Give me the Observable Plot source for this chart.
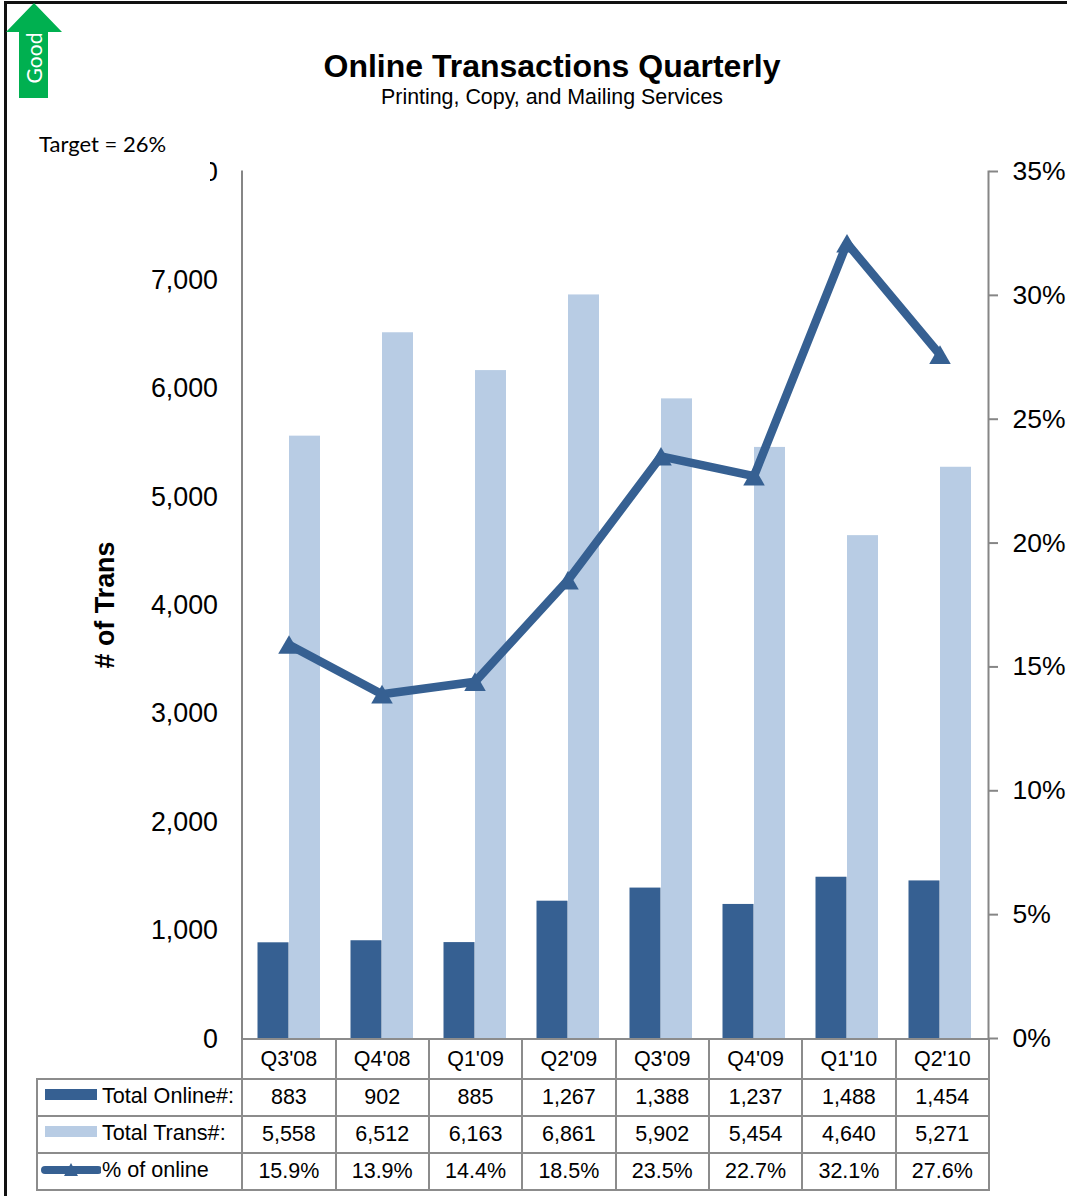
<!DOCTYPE html>
<html><head><meta charset="utf-8">
<script src="https://cdn.jsdelivr.net/npm/d3@7"></script>
<script src="https://cdn.jsdelivr.net/npm/@observablehq/plot@0.6"></script>
<style>
html,body{margin:0;padding:0;background:#fff;overflow:hidden}
#page{position:relative;width:1067px;height:1196px;overflow:hidden;font-family:"Liberation Sans",Arial,sans-serif;color:#000}
#frame{position:absolute;left:4px;top:1px;width:1100px;height:1300px;border-left:3px solid #111;border-top:3px solid #111;box-sizing:border-box}
#chart{position:absolute;left:0;top:0;z-index:2;pointer-events:none}
#chart svg{display:block;overflow:visible}
#title{position:absolute;left:252px;width:600px;top:47px;text-align:center;font-weight:bold;font-size:32px;line-height:38px}
#subtitle{position:absolute;left:252px;width:600px;top:85px;text-align:center;font-size:21.4px;line-height:24px}
#target{position:absolute;left:30px;top:127px;width:180px;height:60px;background:#fff;box-sizing:border-box;padding:4px 0 0 9px;font-family:Lato,sans-serif;font-size:22px;line-height:26px;z-index:3}
#good{position:absolute;left:0;top:0}
table{position:absolute;left:36px;top:1038px;width:952px;height:151px;border-collapse:collapse;table-layout:fixed;font-size:21.5px}
td{border:2px solid #8c8c8c;text-align:center;padding:0;white-space:nowrap;overflow:hidden}
td.blank{border:none;border-bottom:2px solid #8c8c8c;border-right:2px solid #8c8c8c}
td.lab{text-align:left;padding-left:8px;position:relative}
td.lab span.t{position:absolute;left:64px;top:3px;font-size:21.6px}
td.lab svg{position:absolute;left:6px;top:10px}
tr.q{height:40px}tr.r{height:37px}
</style></head>
<body>
<div id="page">
  <div id="frame"></div>
  <div id="chart"></div>
  <div id="title">Online Transactions Quarterly</div>
  <div id="subtitle">Printing, Copy, and Mailing Services</div>
  <div id="target">Target = 26%</div>
  <svg id="good" width="70" height="105">
    <polygon points="34,3 62,32 48,32 48,98 19,98 19,32 6,32" fill="#00B050"/>
    <text transform="translate(42,58) rotate(-90)" text-anchor="middle" fill="#fff" font-family="Lato,sans-serif" font-size="21">Good</text>
  </svg>
  <table id="tbl"></table>
</div>
<script>
const quarters = ["Q3'08","Q4'08","Q1'09","Q2'09","Q3'09","Q4'09","Q1'10","Q2'10"];
const totalOnline = [883,902,885,1267,1388,1237,1488,1454];
const totalTrans = [5558,6512,6163,6861,5902,5454,4640,5271];
const pctOnline = [15.9,13.9,14.4,18.5,23.5,22.7,32.1,27.6];
const leftTicks = [0,1000,2000,3000,4000,5000,6000,7000,8000];
const rightTicks = [0,5,10,15,20,25,30,35];

const DARK = "#366092", LIGHT = "#B8CCE4", GREY = "#868686";
const leftMax = 8000, rightMax = 35;
const toLeft = p => p / rightMax * leftMax;
const rows = quarters.map((q,i) => ({q, online: totalOnline[i], trans: totalTrans[i], pct: pctOnline[i]}));

const chart = Plot.plot({
  width: 1067, height: 1040,
  marginLeft: 241.5, marginRight: 79, marginTop: 171, marginBottom: 2,
  style: {fontFamily: '"Liberation Sans",Arial,sans-serif', background: "transparent", overflow: "visible"},
  x: {domain: quarters, padding: 0, axis: null},
  y: {domain: [0, leftMax]},
  marks: [
    Plot.barY(rows, {x: "q", y: "online", fill: DARK, insetLeft: 14.5, insetRight: 47.5}),
    Plot.barY(rows, {x: "q", y: "trans", fill: LIGHT, insetLeft: 46, insetRight: 16}),
    Plot.line(rows, {x: "q", y: d => toLeft(d.pct), stroke: DARK, strokeWidth: 8.5, strokeLinejoin: "miter", curve: "linear", dx: -1}),
    Plot.dot(rows, {x: "q", y: d => toLeft(d.pct), symbol: "triangle", r: 8, fill: DARK, dy: 3, dx: -1}),
    Plot.frame({anchor: "left", stroke: GREY, strokeWidth: 2}),
    Plot.frame({anchor: "right", stroke: GREY, strokeWidth: 2}),
    Plot.axisY({anchor: "left", ticks: leftTicks, tickSize: 0, tickPadding: 24, fontSize: 26.8, fill: "#000", label: null, dy: 0.5,
      tickFormat: d3.format(",")}),
    Plot.axisY({anchor: "right", ticks: rightTicks.map(toLeft), tickSize: 9, tickPadding: 15, fontSize: 26.5, stroke: GREY, strokeWidth: 2, fill: "#000", label: null,
      tickFormat: v => Math.round(v / leftMax * rightMax) + "%"}),
    Plot.axisY({anchor: "left", ticks: [], tickSize: 0, label: "# of Trans", labelAnchor: "center", labelArrow: "none", labelOffset: 147, fontSize: 26.9, fontWeight: "bold", fill: "#000"})
  ]
});
document.getElementById("chart").append(chart);

const fmtInt = d3.format(",");
const swatches = [
  `<svg width="54" height="14" style="left:5px;top:7px"><rect x="2" y="2" width="52" height="11" fill="${DARK}"/></svg>`,
  `<svg width="54" height="14" style="left:5px;top:7px"><rect x="2" y="2" width="52" height="11" fill="${LIGHT}"/></svg>`,
  `<svg width="60" height="22" style="left:3px;top:7px"><line x1="4" x2="57" y1="9" y2="9" stroke="${DARK}" stroke-width="8" stroke-linecap="round"/><path d="M30,2 L37,15 L23,15 Z" fill="${DARK}"/></svg>`
];
const labels = ["Total Online#:","Total Trans#:","% of online"];
let html = `<colgroup><col style="width:205.2px">${quarters.map(()=>'<col style="width:93.35px">').join("")}</colgroup>`;
html += `<tr class="q"><td class="blank"></td>${quarters.map(q=>`<td>${q}</td>`).join("")}</tr>`;
const series = [totalOnline.map(fmtInt), totalTrans.map(fmtInt), pctOnline.map(v=>v.toFixed(1)+"%")];
series.forEach((vals,i)=>{
  html += `<tr class="r"><td class="lab">${swatches[i]}<span class="t">${labels[i]}</span></td>${vals.map(v=>`<td>${v}</td>`).join("")}</tr>`;
});
document.getElementById("tbl").innerHTML = html;
</script>
</body></html>
